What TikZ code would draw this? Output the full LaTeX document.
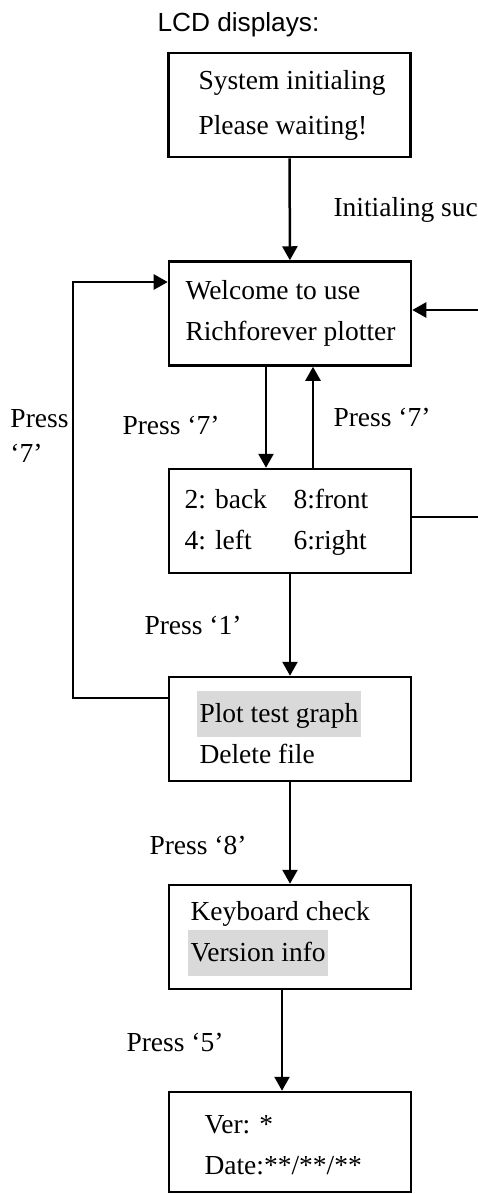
\documentclass[tikz,border=0pt]{standalone}
\usepackage{fontspec}
\setmainfont{Liberation Serif}
\newfontfamily\lcdfont{Liberation Sans}
\usetikzlibrary{arrows.meta,calc,positioning}
\newcommand{\hl}[1]{{\setlength{\fboxsep}{1pt}\kern-1pt\colorbox{black!15}{\strut #1}}}
\tikzset{box/.style={draw,line width=1pt,rectangle,inner sep=0pt,minimum width=96.8pt,minimum height=41.6pt},
  txt/.style={anchor=west,align=left,inner sep=0pt,font=\fontsize{11}{16.4}\selectfont},
  arr/.style={-{Triangle[length=5.6pt,width=6pt]},line width=1pt}}

\begin{document}
\begin{tikzpicture}[x=0.4pt,y=-0.4pt]
\clip (0,0) rectangle (478,1194);
\node[anchor=west,inner sep=0pt,font=\lcdfont\fontsize{10.5}{12}\selectfont] (lcd) at (157,25) {LCD displays:};
% menu screens
\node[box] (b1) at (289.5,105) {}; \node[txt] (t1) at (198,105.5) {System initialing\\[1.6pt]Please waiting!};
\node[box] (b2) at (290,313.5) {}; \node[txt] (t2) at (185,313.5) {Welcome to use\\Richforever plotter};
\node[box] (b3) at (290,521) {}; \node[txt] (t3) at (184,522.5) {\makebox[43.6pt][l]{2: back}8:front\\\makebox[43.6pt][l]{4: left}6:right};
\node[box] (b4) at (290,729) {}; \node[txt] (t4) at (199,727.5) {\hl{Plot test graph}\\Delete file};
\node[box] (b5) at (290,937) {}; \node[txt] (t5) at (190,938.5) {Keyboard check\\\hl{Version info}};
\node[box,minimum height=40pt] (b6) at (290,1142) {}; \node[txt] (t6) at (204,1145) {Ver: *\\Date:**/**/**};
% key labels
\node[txt] (init) at (333,210) {Initialing suc};
\node[txt] (p7a) at (122,425) {Press ‘7’};
\node[txt] (p7b) at (333,417) {Press ‘7’};
\node[txt,font=\fontsize{11}{14}\selectfont] (p7c) at (10,435.5) {Press\\‘7’};
\node[txt] (p1) at (144,625) {Press ‘1’};
\node[txt] (p8) at (149,845) {Press ‘8’};
\node[txt] (p5) at (126,1042) {Press ‘5’};
% transitions
\draw[arr] (b1) -- (b2);
\draw[arr] ([xshift=-9.6pt]b2.south) -- ([xshift=-9.6pt]b3.north);
\draw[arr] ([xshift=9.2pt]b3.north) -- ([xshift=9.2pt]b2.south);
\draw[arr] (b3) -- (b4);
\draw[arr] (b4) -- (b5);
\draw[arr] ([xshift=-3.2pt]b5.south) -- ([xshift=-3.2pt]b6.north);
\coordinate (lbot) at (73,698); \coordinate (ltop) at (73,282);
\draw[arr] (lbot -| b4.west) -- (lbot) -- (ltop) -- (ltop -| b2.west);
\coordinate (rbot) at (500,517); \coordinate (rtop) at (500,310);
\draw[arr] (rbot -| b3.east) -- (rbot) -- (rtop) -- (rtop -| b2.east);
\end{tikzpicture}
\end{document}
